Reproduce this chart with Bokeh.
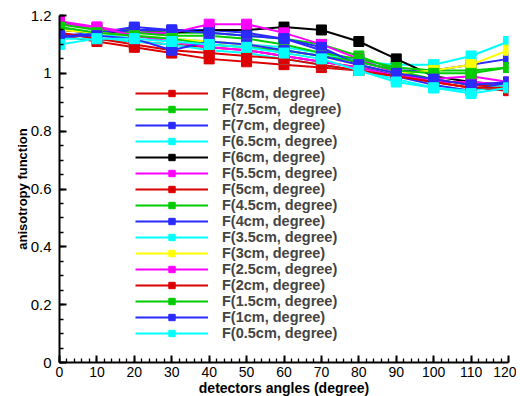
from bokeh.plotting import figure
from bokeh.models import (Range1d, SingleIntervalTicker, FixedTicker,
                          CustomJSTickFormatter, Legend, LegendItem)
from bokeh.embed import file_html
from bokeh.resources import INLINE

# ---- data ----
angles = [0, 10, 20, 30, 40, 50, 60, 70, 80, 90, 100, 110, 120]

f_8cm   = [1.13, 1.11, 1.09, 1.07, 1.05, 1.04, 1.03, 1.02, 1.01, 0.99, 0.97, 0.95, 0.94]
f_7_5cm = [1.18, 1.15, 1.15, 1.14, 1.14, 1.13, 1.12, 1.10, 1.06, 1.01, 0.98, 0.96, 0.96]
f_7cm   = [1.13, 1.14, 1.16, 1.15, 1.15, 1.14, 1.12, 1.08, 1.04, 1.01, 1.01, 1.03, 1.05]
f_6_5cm = [1.16, 1.13, 1.13, 1.12, 1.11, 1.10, 1.09, 1.07, 1.04, 1.03, 1.03, 1.06, 1.11]
f_6cm   = [1.15, 1.14, 1.14, 1.14, 1.15, 1.15, 1.16, 1.15, 1.11, 1.05, 0.99, 0.97, 0.96]
f_5_5cm = [1.17, 1.16, 1.14, 1.14, 1.17, 1.17, 1.14, 1.10, 1.05, 1.00, 0.97, 0.97, 0.96]
f_5cm   = [1.14, 1.12, 1.11, 1.10, 1.09, 1.08, 1.06, 1.04, 1.02, 1.00, 0.98, 0.96, 0.95]
f_4_5cm = [1.17, 1.15, 1.14, 1.13, 1.13, 1.12, 1.10, 1.07, 1.05, 1.02, 1.01, 1.01, 1.02]
f_4cm   = [1.12, 1.14, 1.15, 1.15, 1.14, 1.13, 1.12, 1.09, 1.03, 0.99, 0.96, 0.94, 0.97]
f_3_5cm = [1.12, 1.12, 1.11, 1.10, 1.08, 1.07, 1.05, 1.03, 1.01, 0.98, 0.95, 0.94, 0.96]
f_3cm   = [1.15, 1.14, 1.13, 1.12, 1.11, 1.10, 1.08, 1.06, 1.03, 1.00, 1.01, 1.03, 1.08]
f_2_5cm = [1.18, 1.16, 1.13, 1.11, 1.09, 1.08, 1.06, 1.04, 1.02, 0.99, 0.98, 0.99, 0.97]
f_2cm   = [1.14, 1.12, 1.10, 1.08, 1.07, 1.06, 1.05, 1.03, 1.01, 0.99, 0.97, 0.95, 0.95]
f_1_5cm = [1.16, 1.14, 1.13, 1.12, 1.10, 1.09, 1.08, 1.06, 1.04, 1.01, 1.00, 1.00, 1.02]
f_1cm   = [1.13, 1.13, 1.12, 1.08, 1.11, 1.10, 1.08, 1.06, 1.03, 1.00, 0.98, 0.96, 0.97]
f_0_5cm = [1.10, 1.12, 1.12, 1.11, 1.10, 1.09, 1.07, 1.05, 1.01, 0.97, 0.95, 0.93, 0.95]

series_labels = ["F(8cm, degree)", "F(7.5cm,  degree)", "F(7cm, degree)",
                 "F(6.5cm, degree)", "F(6cm, degree)", "F(5.5cm, degree)",
                 "F(5cm, degree)", "F(4.5cm, degree)", "F(4cm, degree)",
                 "F(3.5cm, degree)", "F(3cm, degree)", "F(2.5cm, degree)",
                 "F(2cm, degree)", "F(1.5cm, degree)", "F(1cm, degree)",
                 "F(0.5cm, degree)"]
series_values = [f_8cm, f_7_5cm, f_7cm, f_6_5cm, f_6cm, f_5_5cm, f_5cm, f_4_5cm,
                 f_4cm, f_3_5cm, f_3cm, f_2_5cm, f_2cm, f_1_5cm, f_1cm, f_0_5cm]

y_ticks = [0, 0.2, 0.4, 0.6, 0.8, 1.0, 1.2]
y_minor_ticks = [round(i * 0.05, 2) for i in range(25)]

RED, GREEN, BLUE, CYAN = "#dd0000", "#00cc00", "#2a2aff", "#00ffff"
BLACK, MAGENTA, YELLOW = "#000000", "#ff00ff", "#ffff00"
series_colors = [RED, GREEN, BLUE, CYAN, BLACK, MAGENTA, RED, GREEN,
                 BLUE, CYAN, YELLOW, MAGENTA, RED, GREEN, BLUE, CYAN]

FONT = "Liberation Sans"

p = figure(width=516, height=398, output_backend="svg", toolbar_location=None,
           x_range=Range1d(0, 120), y_range=Range1d(0, 1.2),
           min_border_left=59, min_border_right=8, min_border_top=15,
           min_border_bottom=10)
p.outline_line_color = None
p.grid.visible = False
p.background_fill_color = "white"
p.border_fill_color = "white"

p.xaxis.ticker = SingleIntervalTicker(interval=10, num_minor_ticks=5)
p.yaxis.ticker = FixedTicker(ticks=y_ticks, minor_ticks=y_minor_ticks)
p.yaxis.formatter = CustomJSTickFormatter(
    code="return (Math.round(tick*10)/10).toString();")

for ax in (p.xaxis, p.yaxis):
    ax.axis_line_width = 2
    ax.axis_line_color = "black"
    ax.major_tick_in = 7
    ax.major_tick_out = 0
    ax.minor_tick_in = 4
    ax.minor_tick_out = 0
    ax.major_tick_line_width = 2
    ax.minor_tick_line_width = 1.3
    ax.major_label_text_font = FONT
    ax.major_label_text_color = "black"
    ax.axis_label_text_font = FONT
    ax.axis_label_text_font_style = "bold"
    ax.axis_label_text_color = "black"

p.xaxis.major_label_text_font_size = "14px"
p.yaxis.major_label_text_font_size = "15px"
p.xaxis.axis_label = "detectors angles (degree)"
p.xaxis.axis_label_text_font_size = "14px"
p.xaxis.major_label_standoff = 4
p.xaxis.axis_label_standoff = 0
p.yaxis.axis_label = "anisotropy function"
p.yaxis.axis_label_text_font_size = "13px"
p.yaxis.major_label_standoff = 8
p.yaxis.axis_label_standoff = -2

items = []
for lab, vals, col in zip(series_labels, series_values, series_colors):
    lr = p.line(angles, vals, line_color=col, line_width=2)
    sr = p.scatter(angles, vals, marker="square", size=10,
                   fill_color=col, line_color=col)
    items.append(LegendItem(label=lab, renderers=[lr, sr]))

legend = Legend(items=items, location=(76, 21), glyph_width=73, glyph_height=16,
                label_height=16, spacing=0, padding=0, margin=0,
                label_standoff=14, label_text_font=FONT,
                label_text_font_style="bold", label_text_font_size="14.5px",
                background_fill_alpha=0, border_line_alpha=0)
p.add_layout(legend)

open("out.html", "w").write(file_html(p, INLINE))
